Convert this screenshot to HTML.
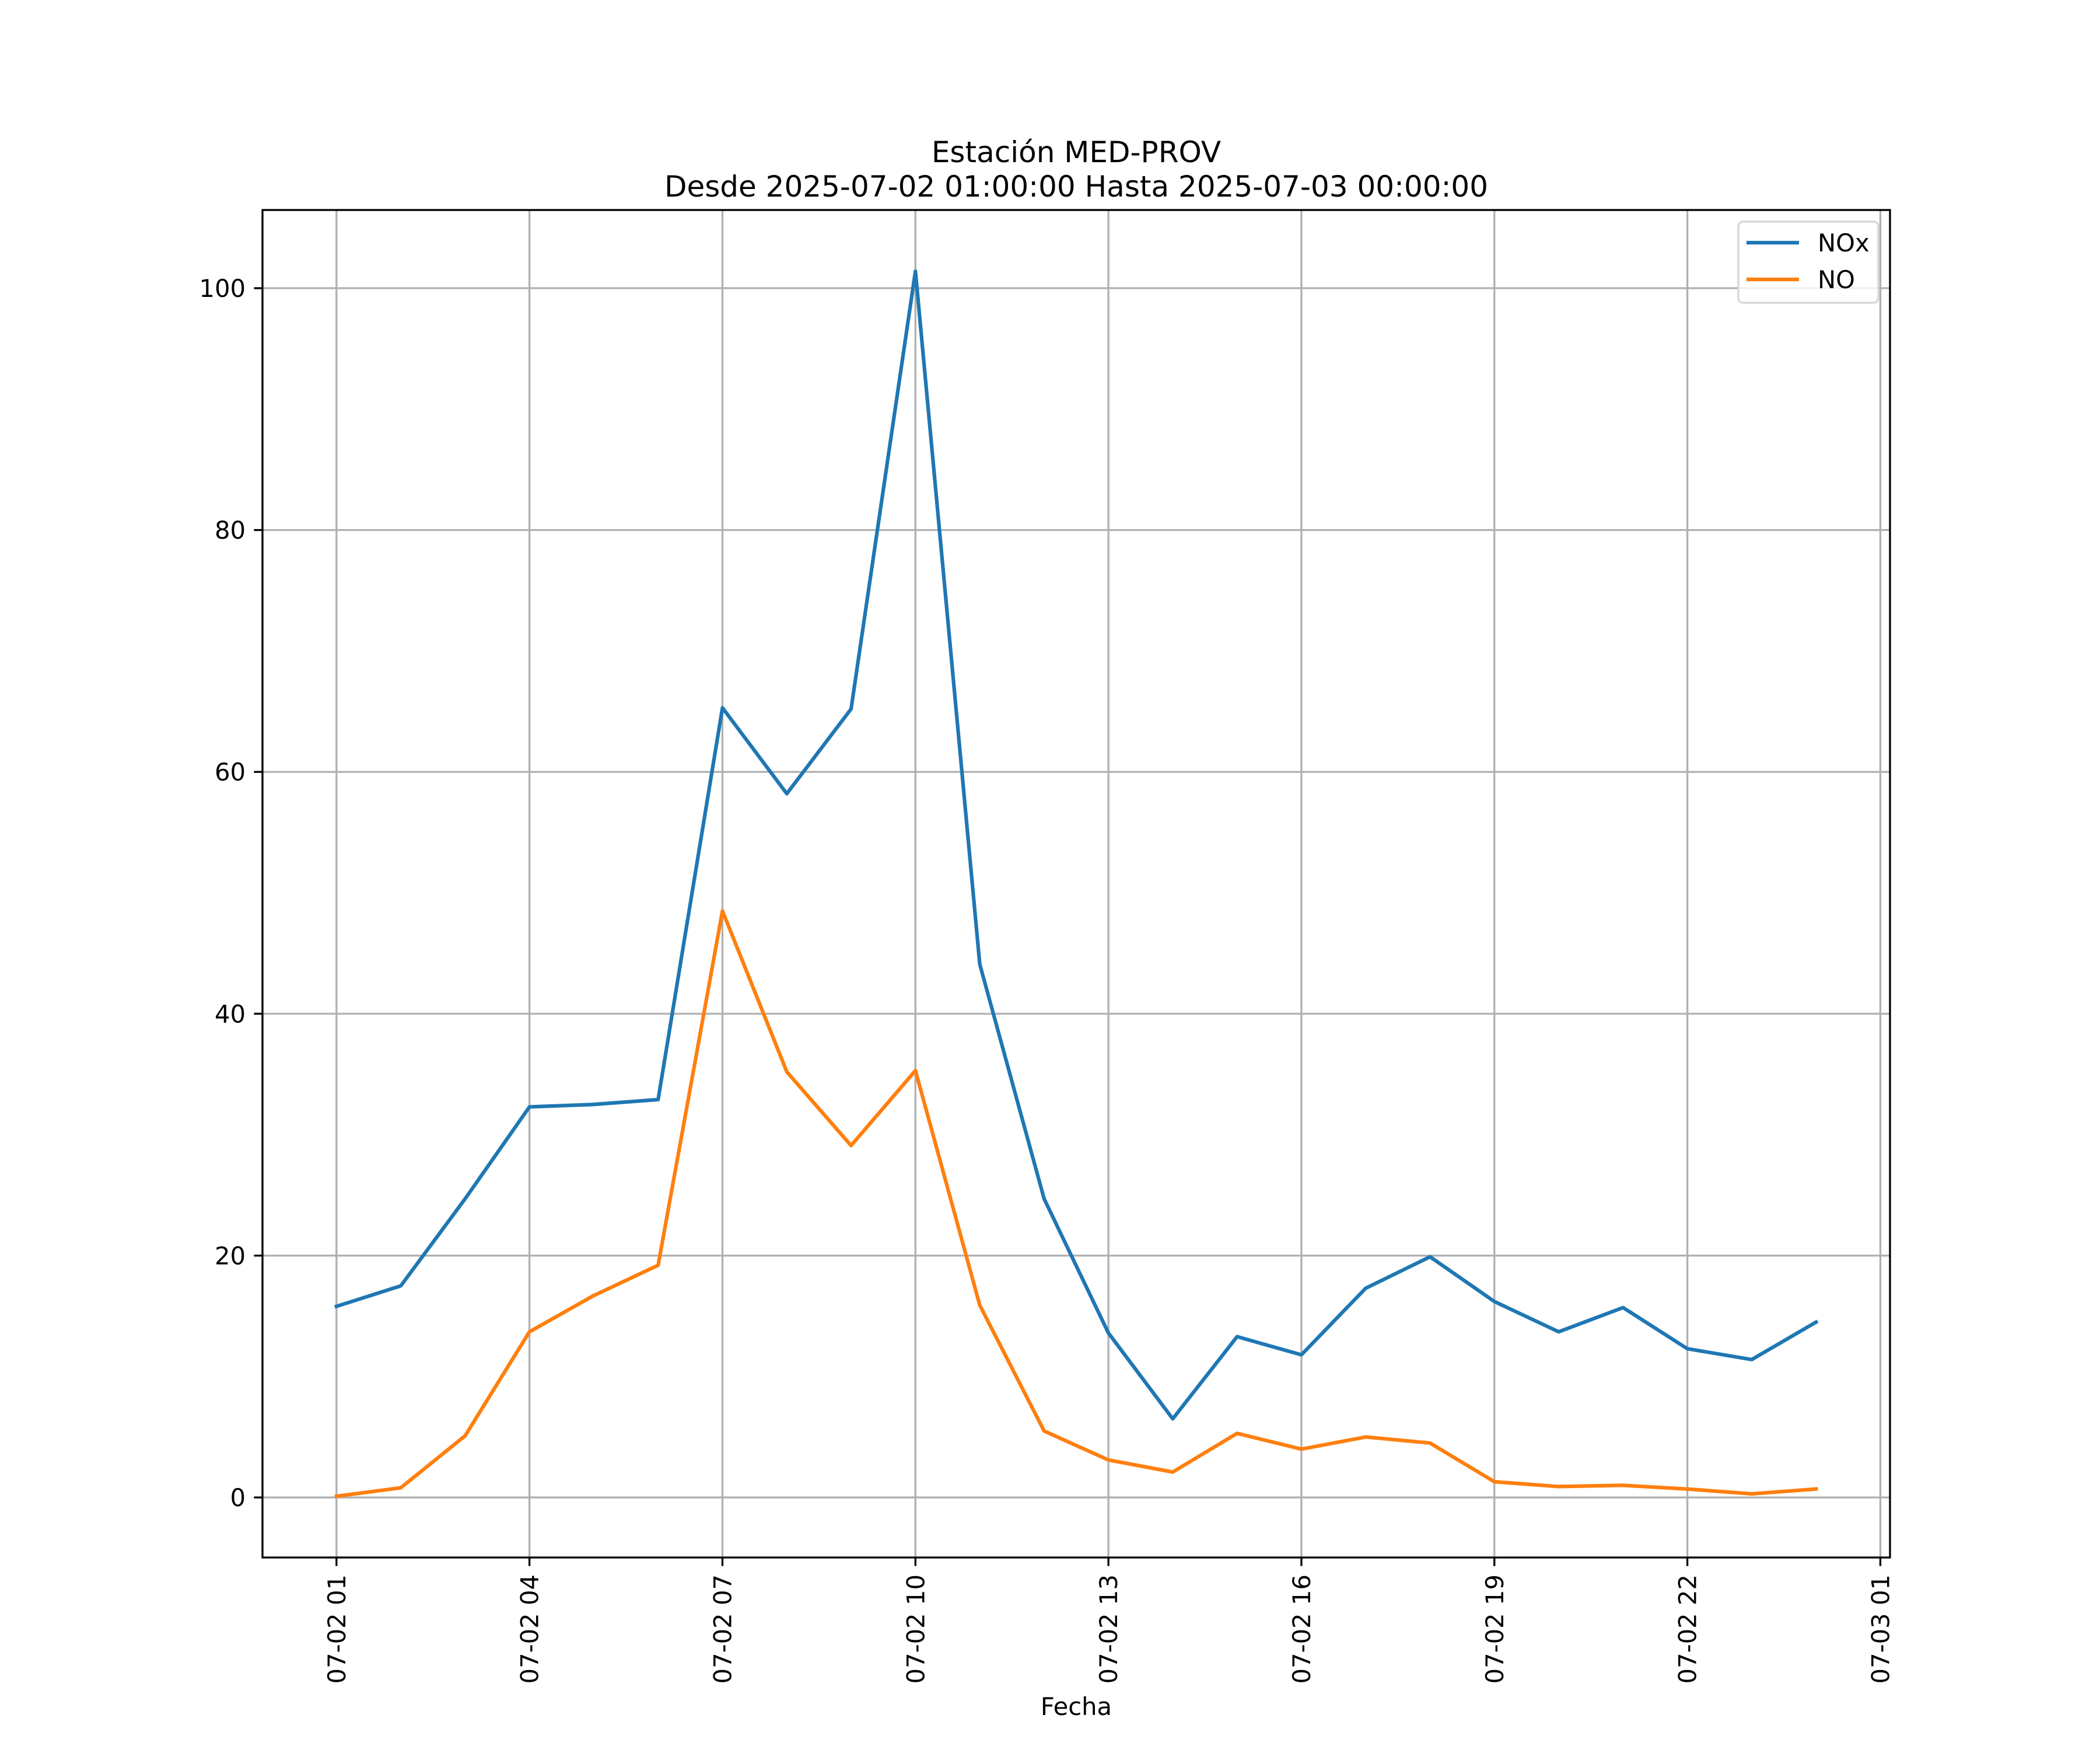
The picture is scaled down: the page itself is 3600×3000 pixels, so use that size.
<!DOCTYPE html>
<html><head><meta charset="utf-8">
<style>html,body{margin:0;padding:0;background:#fff;}svg{display:block;}text{font-family:"DejaVu Sans","Liberation Sans",sans-serif;fill:#000;}</style>
</head><body>
<svg id="chart" xmlns="http://www.w3.org/2000/svg" width="3600" height="3000" viewBox="0 0 3600 3000">
<rect width="3600" height="3000" fill="#fff"/>
<text x="1845" y="278" font-size="50" text-anchor="middle">Estación MED-PROV</text>
<text x="1845" y="337" font-size="50" text-anchor="middle">Desde 2025-07-02 01:00:00 Hasta 2025-07-03 00:00:00</text>
<g id="grid"></g>
<g id="series"></g>
<g id="axes"></g>
<text x="1845" y="2940" font-size="41.7" text-anchor="middle">Fecha</text>
<g>
<rect x="2980" y="380" width="240" height="139" rx="8" fill="#fff" fill-opacity="0.8" stroke="#d6d6d6" stroke-width="3.3"/>
<g><line x1="2994" y1="416" x2="3084" y2="416" stroke="#1f77b4" stroke-width="6.25"/><text x="3116" y="431" font-size="41.7">NOx</text></g>
<g><line x1="2994" y1="479" x2="3084" y2="479" stroke="#ff7f0e" stroke-width="6.25"/><text x="3116" y="494" font-size="41.7">NO</text></g>
</g>
</svg>
<script>
const hours = [1,2,3,4,5,6,7,8,9,10,11,12,13,14,15,16,17,18,19,20,21,22,23,24];
const noxValues = [15.8,17.5,24.7,32.3,32.5,32.9,65.3,58.2,65.2,101.4,44.1,24.7,13.6,6.5,13.3,11.8,17.3,19.9,16.2,13.7,15.7,12.3,11.4,14.5];
const noValues = [0.1,0.8,5.1,13.7,16.7,19.2,48.5,35.2,29.1,35.3,15.9,5.5,3.1,2.1,5.3,4.0,5.0,4.5,1.3,0.9,1.0,0.7,0.3,0.7];
const yTicks = [0,20,40,60,80,100];
const xTickHours = [1,4,7,10,13,16,19,22,25];
const xTickLabels = ["07-02 01","07-02 04","07-02 07","07-02 10","07-02 13","07-02 16","07-02 19","07-02 22","07-03 01"];

const NS = "http://www.w3.org/2000/svg";
const L = 450, R = 3240, T = 360, B = 2670;
const hMin = Math.min(...hours), hMax = Math.max(...hours), hPad = (hMax - hMin) * 0.05;
const allV = noxValues.concat(noValues);
const vMin = Math.min(...allV), vMax = Math.max(...allV), vPad = (vMax - vMin) * 0.05;
const x0 = hMin - hPad, x1 = hMax + hPad, y0 = vMin - vPad, y1 = vMax + vPad;
function xScale(h){ return L + (h - x0) / (x1 - x0) * (R - L); }
function yScale(v){ return B - (v - y0) / (y1 - y0) * (B - T); }
function mk(tag, attrs, parent){ const e = document.createElementNS(NS, tag); for (const k in attrs) e.setAttribute(k, attrs[k]); parent.appendChild(e); return e; }

const grid = document.getElementById('grid');
const axes = document.getElementById('axes');
const series = document.getElementById('series');

yTicks.forEach(v => {
  const y = yScale(v);
  const g = mk('line', {x1:L, x2:R, y1:y, y2:y, stroke:'#b0b0b0', 'stroke-width':3.3}, grid);
  
  
  const t = mk('line', {x1:L-14.6, x2:L, y1:y, y2:y, stroke:'#000', 'stroke-width':3.3}, axes);
  
  
  const lb = mk('text', {x:L-29, y:y+15, 'font-size':41.7, 'text-anchor':'end'}, axes);
  lb.textContent = String(v);
  
  
});
xTickHours.forEach((h, i) => {
  const x = xScale(h);
  const g = mk('line', {x1:x, x2:x, y1:T, y2:B, stroke:'#b0b0b0', 'stroke-width':3.3}, grid);
  
  
  const t = mk('line', {x1:x, x2:x, y1:B, y2:B+14.6, stroke:'#000', 'stroke-width':3.3}, axes);
  
  
  const lb = mk('text', {x:0, y:0, 'font-size':41.7, 'text-anchor':'end', transform:'translate(' + (x+15) + ',' + (B+29) + ') rotate(-90)'}, axes);
  lb.textContent = xTickLabels[i];
  
  
});
const frame = mk('rect', {x:L, y:T, width:R-L, height:B-T, fill:'none', stroke:'#000', 'stroke-width':3.3}, axes);



function drawLine(vals, color, name){
  const pts = vals.map((v, i) => xScale(hours[i]).toFixed(1) + ',' + yScale(v).toFixed(1)).join(' ');
  const p = mk('polyline', {points:pts, fill:'none', stroke:color, 'stroke-width':6.25, 'stroke-linejoin':'round', 'stroke-linecap':'square'}, series);
  
  
}
drawLine(noxValues, '#1f77b4', 'nox-line');
drawLine(noValues, '#ff7f0e', 'no-line');
</script>
</body></html>
